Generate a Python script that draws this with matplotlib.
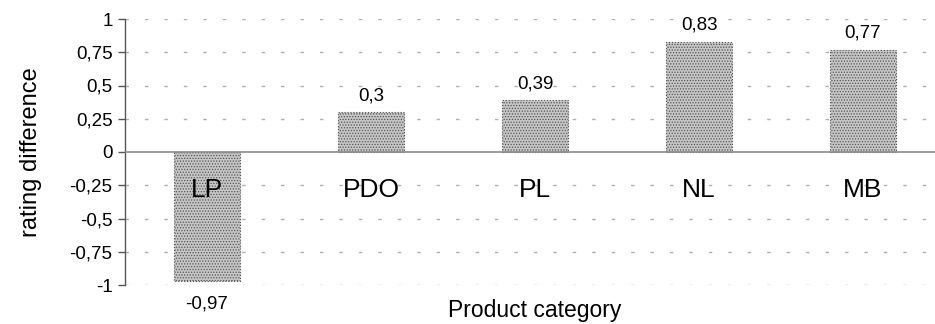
import numpy as np
import matplotlib
matplotlib.use("Agg")
import matplotlib.pyplot as plt

plt.rcParams['font.family'] = ['Liberation Sans', 'DejaVu Sans']
plt.rcParams['hatch.color'] = '#8a8a8a'
plt.rcParams['hatch.linewidth'] = 0.6

# rating difference per product category
categories = ['LP', 'PDO', 'PL', 'NL', 'MB']
diffs = [-0.97, 0.3, 0.39, 0.83, 0.77]
yticks = [-1, -0.75, -0.5, -0.25, 0, 0.25, 0.5, 0.75, 1]


def fmt(v):
    # decimal comma, plain hyphen for negatives
    s = ('%.2f' % v).rstrip('0').rstrip('.')
    return s.replace('.', ',')


fig = plt.figure(figsize=(9.35, 3.24), dpi=100)
ax = fig.add_axes([125 / 935, 39 / 324, 820 / 935, 266 / 324])

x = np.arange(len(categories))
ax.bar(x, diffs, width=0.4, color='#c6c6c6', hatch='......',
       edgecolor='#555555', linewidth=0.8, linestyle=':', zorder=3)

# value labels above / below bars
for xi, v in zip(x, diffs):
    if v >= 0:
        ax.text(xi, v + 0.06, fmt(v), ha='center', va='bottom', fontsize=13.5)
    else:
        ax.text(xi, v - 0.11, fmt(v), ha='center', va='top', fontsize=13.5)

# category names inside the plot below the zero line
for xi, c in zip(x, categories):
    ax.text(xi, -0.285, c, ha='center', va='center', fontsize=19)

ax.set_xlim(-0.5, len(categories) - 0.5)
ax.set_ylim(-1, 1)
ax.set_yticks(yticks)
ax.set_yticklabels([fmt(t) for t in yticks], fontsize=13.5)
ax.set_xticks([])

for t in yticks:
    if t != 0:
        ax.axhline(t, color='#b0b0b0', lw=1, linestyle=(0, (2.5, 11.5)), zorder=1)
ax.axhline(0, color='#8c8c8c', lw=1.2, zorder=4)

for s in ['top', 'right', 'bottom']:
    ax.spines[s].set_visible(False)
ax.spines['left'].set_color('#555555')
ax.spines['left'].set_linewidth(1)
ax.tick_params(axis='y', length=5, width=1, color='#555555', pad=4)

ax.set_ylabel('rating difference', fontsize=17, labelpad=20)
fig.text(535 / 935, 1 - 310 / 324, 'Product category', ha='center', va='center', fontsize=16.5)

fig.savefig('out.png', dpi=100)
